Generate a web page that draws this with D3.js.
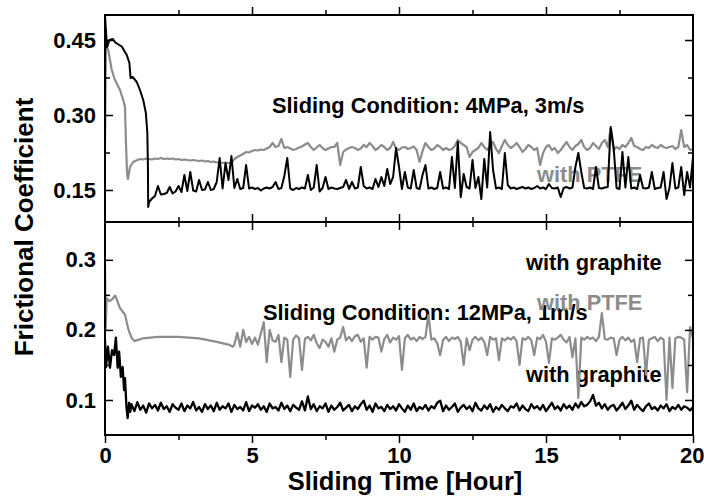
<!DOCTYPE html>
<html lang="en">
<head>
<meta charset="UTF-8">
<title>Frictional Coefficient vs Sliding Time</title>
<script src="https://d3js.org/d3.v7.min.js"></script>
<style>
  body { margin: 0; background: #fff; }
  svg { display: block; font-family: "Liberation Sans", Arial, sans-serif; font-weight: bold; }
  .tick text { font-size: 22px; fill: #000; font-family: "Liberation Sans", Arial, sans-serif; font-weight: bold; }
  .tick line { stroke: #000; stroke-width: 1.5; }
</style>
</head>
<body>
<svg id="chart" width="704" height="498"></svg>
<script>
// ---- data ----
const xTicks = [0, 5, 10, 15, 20];
const xMinor = [2.5, 7.5, 12.5, 17.5];
const topTicks = [0.15, 0.30, 0.45];
const topMinor = [0.225, 0.375];
const botTicks = [0.1, 0.2, 0.3];
const botMinor = [0.15, 0.25];

// top panel (4MPa, 3m/s), black curve: transient [hour, value] then 0.1 h samples from 1.5 h
const topBlackHead = [[0,.50],[0.03,.47],[0.07,.435],[0.15,.45],[0.27,.452],[0.35,.445],[0.57,.437],[0.74,.42],
  [0.83,.404],[0.87,.374],[0.94,.376],[1.08,.366],[1.19,.35],[1.3,.33],[1.39,.304],[1.44,.264],[1.46,.196],[1.47,.116]];
const topBlackStart = 1.5;
const topBlack = [
  .126,.133,.138,.158,.141,.142,.144,.156,.143,.147,
  .158,.146,.180,.148,.186,.149,.147,.170,.150,.151,
  .166,.150,.152,.166,.214,.153,.204,.170,.218,.154,
  .172,.152,.154,.200,.153,.155,.152,.154,.149,.153,
  .155,.153,.156,.166,.152,.154,.178,.214,.153,.150,
  .154,.152,.155,.153,.180,.150,.155,.200,.147,.154,
  .176,.152,.155,.153,.152,.154,.156,.170,.152,.166,
  .153,.155,.196,.158,.153,.155,.152,.172,.156,.176,
  .158,.192,.162,.176,.234,.196,.152,.186,.155,.153,
  .190,.154,.152,.180,.200,.153,.155,.152,.154,.186,
  .153,.155,.152,.216,.154,.246,.136,.182,.156,.153,
  .210,.154,.176,.132,.212,.155,.266,.190,.153,.155,
  .152,.224,.160,.153,.155,.152,.154,.156,.153,.155,
  .152,.154,.158,.153,.155,.152,.162,.154,.153,.155,
  .136,.154,.156,.153,.155,.196,.224,.186,.154,.153,
  .155,.152,.196,.154,.153,.155,.156,.276,.236,.154,
  .152,.226,.155,.216,.153,.155,.152,.180,.154,.153,
  .155,.186,.152,.154,.155,.186,.132,.154,.204,.153,
  .155,.196,.140,.186,.155,.216];

// top panel, gray curve
const topGrayHead = [[0,.23],[0.03,.436],[0.11,.43],[0.23,.39],[0.34,.37],[0.51,.35],[0.62,.33],[0.68,.316],
  [0.71,.25],[0.75,.184],[0.78,.172],[0.85,.196],[0.96,.206],[1.1,.21]];
const topGrayStart = 1.2;
const topGray = [
  .212,.211,.213,.212,.211,.213,.212,.214,.212,.213,
  .212,.213,.211,.212,.210,.211,.210,.209,.210,.209,
  .208,.209,.207,.208,.206,.207,.205,.206,.204,.205,
  .204,.203,.212,.216,.219,.222,.226,.225,.228,.230,
  .229,.231,.230,.233,.236,.244,.236,.238,.252,.234,
  .236,.233,.230,.232,.235,.237,.241,.244,.236,.230,
  .235,.240,.234,.230,.233,.236,.236,.244,.200,.226,
  .231,.234,.236,.234,.230,.233,.240,.236,.244,.238,
  .230,.234,.240,.236,.230,.234,.246,.233,.230,.235,
  .236,.232,.234,.237,.230,.206,.228,.244,.236,.230,
  .233,.240,.236,.230,.234,.230,.232,.238,.250,.244,
  .240,.236,.216,.226,.230,.234,.244,.236,.230,.238,
  .246,.232,.224,.238,.250,.240,.234,.238,.244,.236,
  .226,.232,.240,.236,.230,.234,.200,.224,.236,.240,
  .230,.234,.224,.230,.238,.246,.236,.230,.238,.242,
  .250,.236,.230,.234,.244,.238,.232,.244,.250,.236,
  .274,.230,.236,.232,.240,.236,.244,.254,.238,.236,
  .232,.230,.236,.234,.240,.236,.234,.240,.236,.234,
  .236,.238,.232,.236,.270,.236,.240,.230,.232];

// bottom panel (12MPa, 1m/s), gray curve
const botGrayHead = [[0,.30],[0.02,.20],[0.06,.245],[0.15,.241],[0.25,.244],[0.35,.249],[0.42,.241],[0.51,.231],
  [0.6,.226],[0.68,.222],[0.8,.20],[0.9,.189],[1.0,.184],[1.3,.188],[1.8,.190],[2.5,.190],[3.2,.188],
  [3.8,.183],[4.2,.179],[4.35,.176]];
const botGrayStart = 4.4;
const botGray = [
  .179,.196,.176,.200,.183,.190,.180,.189,.179,.195,
  .211,.154,.200,.185,.183,.193,.154,.189,.186,.133,
  .186,.192,.188,.143,.187,.190,.185,.193,.181,.174,
  .186,.183,.176,.188,.169,.186,.189,.204,.185,.190,
  .184,.191,.193,.183,.188,.146,.190,.186,.190,.189,
  .169,.187,.193,.182,.189,.186,.191,.143,.188,.193,
  .186,.189,.184,.190,.187,.190,.221,.186,.188,.181,
  .164,.186,.190,.184,.189,.187,.190,.183,.150,.188,
  .171,.186,.190,.185,.189,.183,.164,.190,.186,.188,
  .157,.188,.185,.189,.186,.190,.184,.150,.188,.186,
  .190,.185,.164,.189,.187,.193,.183,.153,.188,.186,
  .189,.193,.186,.182,.190,.161,.188,.103,.189,.186,
  .190,.187,.189,.184,.190,.224,.187,.186,.189,.188,
  .164,.186,.190,.185,.189,.183,.186,.154,.188,.189,
  .136,.186,.188,.190,.184,.189,.186,.100,.189,.117,
  .188,.190,.189,.186,.111,.204,.188];

// bottom panel, black curve
const botBlackHead = [[0,.186],[0.034,.147],[0.10,.176],[0.17,.146],[0.24,.171],[0.31,.164],[0.37,.189],[0.43,.146],
  [0.48,.169],[0.54,.133],[0.6,.147],[0.65,.114],[0.68,.131],[0.73,.09],[0.77,.074],[0.82,.096],[0.86,.083]];
const botBlackStart = 0.9;
const botBlack = [
  .094,.084,.097,.086,.092,.082,.095,.088,.093,.085,
  .096,.087,.091,.083,.094,.089,.086,.095,.084,.092,
  .088,.097,.085,.090,.083,.094,.087,.092,.084,.096,
  .086,.091,.088,.095,.083,.093,.087,.090,.085,.097,
  .084,.092,.089,.094,.086,.091,.083,.095,.088,.090,
  .085,.096,.087,.092,.084,.093,.089,.086,.098,.085,
  .105,.087,.094,.084,.091,.088,.095,.083,.092,.086,
  .090,.096,.085,.089,.093,.084,.091,.087,.094,.099,
  .086,.092,.083,.095,.088,.090,.084,.093,.087,.091,
  .085,.094,.088,.083,.092,.086,.095,.084,.090,.087,
  .093,.085,.091,.088,.096,.099,.084,.092,.086,.090,
  .095,.083,.089,.093,.087,.091,.084,.096,.088,.085,
  .092,.087,.094,.083,.090,.086,.093,.088,.084,.091,
  .089,.095,.085,.092,.087,.084,.094,.088,.091,.086,
  .093,.084,.090,.096,.087,.091,.085,.094,.088,.092,
  .086,.095,.089,.097,.091,.093,.098,.107,.092,.096,
  .088,.094,.086,.091,.093,.085,.090,.096,.087,.092,
  .099,.086,.093,.088,.084,.091,.095,.087,.090,.085,
  .092,.088,.094,.084,.090,.087,.093,.086,.091,.089,
  .085,.090];

const step = 0.1; // sampling interval of the recorded data, hours

function build(head, start, vals) {
  return head.concat(vals.map((v, i) => [+(start + i * step).toFixed(2), v]));
}

// ---- layout ----
const svg = d3.select("#chart");
const xLeft = 105, xRight = 693, yTopEdge = 15, yMid = 222, yBottom = 435;
const gray = "#8c8c8c";

const x = d3.scaleLinear().domain([0, 20]).range([xLeft, xRight]);
const yTop = d3.scaleLinear().domain([0.086, 0.5]).range([yMid, yTopEdge]);
const yBot = d3.scaleLinear().domain([0.05, 0.354]).range([yBottom, yMid]);

const defs = svg.append("defs");
defs.append("clipPath").attr("id", "clipTop")
  .append("rect").attr("x", xLeft).attr("y", yTopEdge).attr("width", xRight - xLeft).attr("height", yMid - yTopEdge);
defs.append("clipPath").attr("id", "clipBot")
  .append("rect").attr("x", xLeft).attr("y", yMid).attr("width", xRight - xLeft).attr("height", yBottom - yMid);

// annotations (under the curves, as in the original)
const labels = [
  { t: "Sliding Condition: 4MPa, 3m/s", x: 272, y: 113, c: "#000" },
  { t: "with PTFE", x: 537, y: 182, c: gray },
  { t: "with graphite", x: 526, y: 270, c: "#000" },
  { t: "Sliding Condition: 12MPa, 1m/s", x: 263, y: 320, c: "#000" },
  { t: "with PTFE", x: 537, y: 310, c: gray },
  { t: "with graphite", x: 526, y: 382, c: "#000" }
];
svg.append("g").selectAll("text").data(labels).join("text")
  .attr("x", d => d.x).attr("y", d => d.y)
  .attr("fill", d => d.c)
  .style("font-size", "21.8px")
  .text(d => d.t);

// curves
function draw(data, yScale, color, clip, w) {
  const line = d3.line().x(d => x(d[0])).y(d => yScale(d[1]));
  svg.append("path")
    .datum(data)
    .attr("clip-path", `url(#${clip})`)
    .attr("fill", "none")
    .attr("stroke", color)
    .attr("stroke-width", w)
    .attr("stroke-linejoin", "round")
    .attr("d", line);
}
draw(build(topGrayHead, topGrayStart, topGray), yTop, gray, "clipTop", 2.2);
draw(build(topBlackHead, topBlackStart, topBlack), yTop, "#000", "clipTop", 2);
draw(build(botGrayHead, botGrayStart, botGray), yBot, gray, "clipBot", 2.2);
draw(build(botBlackHead, botBlackStart, botBlack), yBot, "#000", "clipBot", 2.3);

// axes with inward ticks
function axis(gen, tx, ty, values, size, fmt, pad) {
  const g = svg.append("g").attr("transform", `translate(${tx},${ty})`)
    .call(gen.tickValues(values).tickSize(size).tickPadding(pad || 3).tickFormat(fmt));
  g.select(".domain").remove();
  return g;
}
const none = () => "";
// top panel
axis(d3.axisLeft(yTop), xLeft, 0, topTicks, -8, d3.format(".2f"), 9);
axis(d3.axisLeft(yTop), xLeft, 0, topMinor, -5, none);
axis(d3.axisRight(yTop), xRight, 0, topTicks, -8, none);
axis(d3.axisRight(yTop), xRight, 0, topMinor, -5, none);
axis(d3.axisTop(x), 0, yMid, xTicks.slice(1, -1), -8, none);
axis(d3.axisTop(x), 0, yMid, xMinor, -5, none);
axis(d3.axisBottom(x), 0, yTopEdge, xTicks.slice(1, -1), -8, none);
axis(d3.axisBottom(x), 0, yTopEdge, xMinor, -5, none);
// bottom panel
axis(d3.axisLeft(yBot), xLeft, 0, botTicks, -8, d3.format(".1f"), 9);
axis(d3.axisLeft(yBot), xLeft, 0, botMinor, -5, none);
axis(d3.axisRight(yBot), xRight, 0, botTicks, -8, none);
axis(d3.axisRight(yBot), xRight, 0, botMinor, -5, none);
axis(d3.axisBottom(x), 0, yMid, xTicks.slice(1, -1), -8, none);
axis(d3.axisBottom(x), 0, yMid, xMinor, -5, none);
const xLab = axis(d3.axisTop(x), 0, yBottom, xTicks, -8, d3.format("d"), 12);
xLab.selectAll("text").attr("dy", "0.71em").attr("y", 12);
// the last label sits against the right edge of the page
xLab.selectAll("text").filter(d => d === 20).attr("text-anchor", "end").attr("dx", 11);
axis(d3.axisTop(x), 0, yBottom, xMinor, -5, none);

// frames
[[yTopEdge, yMid], [yMid, yBottom]].forEach(([a, b]) => {
  svg.append("rect")
    .attr("x", xLeft).attr("y", a)
    .attr("width", xRight - xLeft).attr("height", b - a)
    .attr("fill", "none").attr("stroke", "#000").attr("stroke-width", 2);
});

// axis titles
svg.append("text")
  .attr("x", 405).attr("y", 490)
  .attr("text-anchor", "middle")
  .style("font-size", "25.5px")
  .text("Sliding Time [Hour]");

svg.append("text")
  .attr("transform", "translate(33,227) rotate(-90)")
  .attr("text-anchor", "middle")
  .style("font-size", "26px")
  .text("Frictional Coefficient");
</script>
</body>
</html>
